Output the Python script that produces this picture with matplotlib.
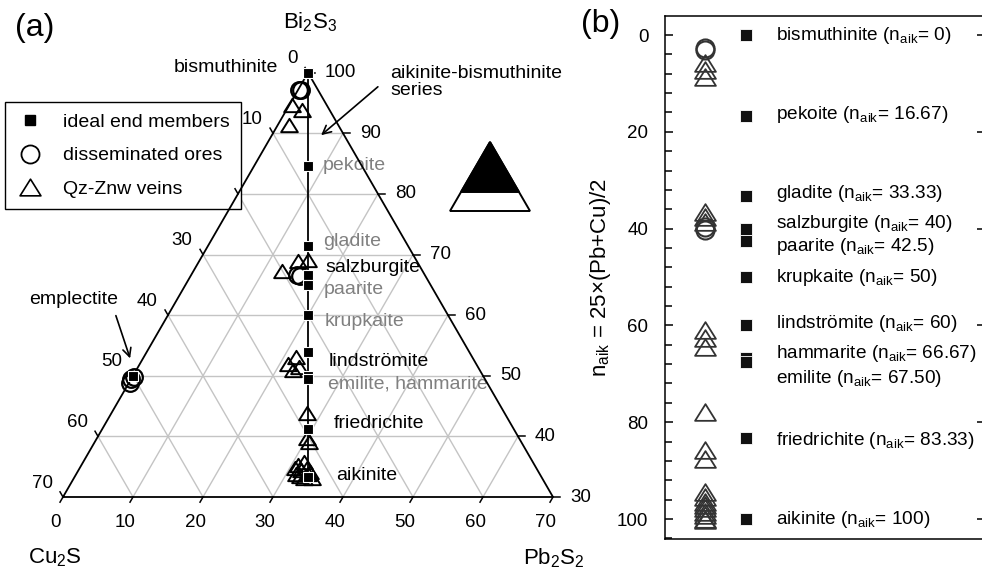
import numpy as np
import matplotlib.pyplot as plt
from matplotlib.lines import Line2D
from matplotlib.path import Path
from matplotlib.patches import Polygon
from matplotlib.ticker import MultipleLocator

plt.rcParams['font.family'] = ['Liberation Sans', 'DejaVu Sans']
plt.rcParams['mathtext.fontset'] = 'custom'
plt.rcParams['mathtext.rm'] = 'Liberation Sans'
plt.rcParams['mathtext.it'] = 'Liberation Sans:italic'
plt.rcParams['mathtext.bf'] = 'Liberation Sans:bold'

# ---- data ----
# ideal members of the aikinite-bismuthinite series (n_aik)
members = ["bismuthinite", "pekoite", "gladite", "salzburgite", "paarite", "krupkaite",
           "lindströmite", "hammarite", "emilite", "friedrichite", "aikinite"]
n_aik = [0, 16.67, 33.33, 40, 42.5, 50, 60, 66.67, 67.5, 83.33, 100]
n_txt = ["0", "16.67", "33.33", "40", "42.5", "50", "60", "66.67", "67.50", "83.33", "100"]
# emplectite CuBiS2 (mol% Cu2S, Pb2S2, Bi2S3)
empl_cu, empl_pb, empl_bi = [50.0], [0.0], [50.0]

# disseminated ores (mol% Cu2S, Pb2S2, Bi2S3)
diss_cu = [2.7, 2.5, 18.3, 18.0, 50.5, 51.0, 49.9]
diss_pb = [0.1, 0.4, 15.1, 15.6, 0.0, 0.2, 0.3]
diss_bi = [97.2, 97.1, 66.6, 66.4, 49.5, 48.8, 49.8]

# Qz-Znw veins (mol% Cu2S, Pb2S2, Bi2S3)
vein_cu = [5.0, 3.9, 7.0, 15.5, 17.0, 20.0, 25.2, 26.8, 25.6, 26.6, 28.2, 30.3, 30.3,
           34.5, 33.8, 33.8, 32.7, 32.7, 32.6, 34.4, 34.0, 32.9, 34.8, 33.1]
vein_pb = [0.4, 2.2, 1.6, 15.4, 14.1, 12.7, 21.7, 21.2, 22.9, 22.4, 28.0, 30.0, 30.6,
           30.7, 30.9, 31.8, 31.5, 32.5, 33.2, 32.1, 32.9, 34.0, 31.4, 33.1]
vein_bi = [94.6, 93.9, 91.4, 69.1, 68.9, 67.3, 53.1, 52.0, 51.5, 51.0, 43.8, 39.7, 39.1,
           34.8, 35.3, 34.4, 35.8, 34.8, 34.2, 33.5, 33.1, 33.1, 33.8, 33.8]

# panel (b): n_aik of analyses
diss_n = [2.7, 3.1, 39.6, 40.3]
vein_n = [5.8, 7.2, 8.7, 36.5, 37.5, 38.6, 61.0, 62.7, 64.4, 77.8, 85.7, 87.5,
          94.4, 95.4, 96.4, 97.1, 97.8, 98.5, 99.2, 99.9, 100.2]
label_y = [0, 16.5, 32.7, 38.9, 43.7, 50.2, 59.7, 65.7, 70.9, 83.7, 100]

SQ = np.sqrt(3) / 2


def to_xy(pb, bi):
    pb = np.asarray(pb, float)
    bi = np.asarray(bi, float)
    return pb + (bi - 30) / 2, (bi - 30) * SQ


def px(x, y):
    # figure pixel -> ternary axes data (7 px per unit)
    return (x - 63) / 7, (497 - y) / 7


tri = Path([(-1, -0.8), (1, -0.8), (0, 0.8), (0, 0)],
           [Path.MOVETO, Path.LINETO, Path.LINETO, Path.CLOSEPOLY])

fig = plt.figure(figsize=(9.82, 5.74), dpi=100)

# ---- (a) ternary ----
ax = fig.add_axes([0, 0, 600 / 982, 1])
ax.set_xlim(-9, 600 / 7 - 9)
ax.set_ylim(-11, 71)
ax.axis('off')

grid = '#c4c4c4'
for v in range(10, 70, 10):
    b = 30 + v
    x, y = to_xy([0, 100 - b], [b, b])
    ax.plot(x, y, color=grid, lw=1, zorder=1)
    x, y = to_xy([v, v], [30, 100 - v])
    ax.plot(x, y, color=grid, lw=1, zorder=1)
    x, y = to_xy([70 - v, 0], [30, 100 - v])
    ax.plot(x, y, color=grid, lw=1, zorder=1)

x, y = to_xy([0, 70, 0, 0], [30, 30, 100, 30])
ax.plot(x, y, color='black', lw=1.3, zorder=6, solid_joinstyle='miter')

L = 0.85
for v in range(0, 80, 10):
    # bottom: Pb2S2
    x0, y0 = to_xy(v, 30)
    ax.plot([x0, x0 - 0.5 * L], [y0, y0 - SQ * L], color='black', lw=1.1, zorder=6)
    ax.text(x0 - 1.14, -3.71, str(v), ha='center', va='center', fontsize=13.5)
    # left: Cu2S
    x0, y0 = to_xy(0, 100 - v)
    ax.plot([x0, x0 - 0.5 * L], [y0, y0 + SQ * L], color='black', lw=1.1, zorder=6)
    ax.text(x0 - 1.5, y0 + 2.0, str(v), ha='right', va='center', fontsize=13.5)
    # right: Bi2S3
    x0, y0 = to_xy(70 - v, 30 + v)
    ax.plot([x0, x0 + 1.0], [y0, y0], color='black', lw=1.1, zorder=6)
    ax.text(x0 + 2.43, y0, str(30 + v), ha='left', va='center', fontsize=13.5)

# series line and ideal end members
f = np.array(n_aik) / 100
sq_pb = 100 * f / (2 + f)
sq_bi = 100 * (2 - f) / (2 + f)
x, y = to_xy(sq_pb, sq_bi)
ax.plot(x, y, color='black', lw=1.3, zorder=4)

x, y = to_xy(vein_pb, vein_bi)
ax.plot(x, y, ls='none', marker=tri, ms=12, mfc='none', mec='black', mew=1.4, zorder=5)
x, y = to_xy(diss_pb, diss_bi)
ax.plot(x, y, ls='none', marker='o', ms=12, mfc='none', mec='black', mew=1.6, zorder=5)

x, y = to_xy(np.r_[sq_pb, empl_pb], np.r_[sq_bi, empl_bi])
ax.plot(x, y, ls='none', marker='s', ms=7.5, mfc='black', mec='white', mew=0.8, zorder=7)

# mineral labels
fs = 14
gray = '#808080'
ax.text(*px(278, 68), 'bismuthinite', ha='right', va='center', fontsize=fs)
ax.text(*px(390, 82), 'aikinite-bismuthinite\nseries', ha='left', va='center',
        fontsize=fs, linespacing=1.05)
for name, xp, yp, col in [("pekoite", 323, 165, gray), ("gladite", 323, 242, gray),
                          ("salzburgite", 325, 268, 'black'), ("paarite", 324, 289, gray),
                          ("krupkaite", 325, 321, gray), ("lindströmite", 329, 361, 'black'),
                          ("emilite, hammarite", 328, 384, gray),
                          ("friedrichite", 334, 424, 'black'), ("aikinite", 336, 476, 'black')]:
    ax.text(*px(xp, yp), name, ha='left', va='center', fontsize=fs, color=col)
ax.text(*px(74, 300), 'emplectite', ha='center', va='center', fontsize=fs)

arrow = dict(arrowstyle='->,head_length=0.6,head_width=0.3', color='black', lw=1.2)
ax.annotate('', xy=px(319, 137), xytext=px(380, 85), arrowprops=arrow)
ax.annotate('', xy=px(131, 361), xytext=px(115, 313), arrowprops=arrow)

ax.text(*px(310, 22), 'Bi$_{\\rm 2}$S$_{\\rm 3}$', ha='center', va='center', fontsize=16)
ax.text(*px(55, 558), 'Cu$_{\\rm 2}$S', ha='center', va='center', fontsize=16)
ax.text(*px(585, 558), 'Pb$_{\\rm 2}$S$_{\\rm 2}$', ha='right', va='center', fontsize=16)
ax.text(*px(35, 28), '(a)', ha='center', va='center', fontsize=23)

handles = [Line2D([], [], ls='none', marker='s', ms=7, mfc='black', mec='black'),
           Line2D([], [], ls='none', marker='o', ms=13, mfc='none', mec='black', mew=1.3),
           Line2D([], [], ls='none', marker=tri, ms=15, mfc='none', mec='black', mew=1.2)]
leg = ax.legend(handles, ['ideal end members', 'disseminated ores', 'Qz-Znw veins'],
                loc='upper left', bbox_to_anchor=(5 / 600, 1 - 102 / 574),
                bbox_transform=ax.transAxes, borderaxespad=0, fontsize=14,
                frameon=True, fancybox=False, edgecolor='black', framealpha=1,
                handlelength=1.37, handletextpad=1.0, labelspacing=0.8, borderpad=0.6)
leg.get_frame().set_linewidth(1.0)
leg.set_zorder(5.5)

# composition icon
ins = fig.add_axes([450 / 982, (574 - 211) / 574, 80 / 982, 69 / 574])
ins.set_xlim(0, 1)
ins.set_ylim(0, 1)
ins.axis('off')
h = 50 / 69
ins.add_patch(Polygon([(0, 0), (1, 0), (0.5, 1)], closed=True, fc='white', ec='black',
                      lw=1.4, clip_on=False))
ins.add_patch(Polygon([(0.5, 1), (0.5 - 0.5 * h, 1 - h), (0.5 + 0.5 * h, 1 - h)],
                      closed=True, fc='black', ec='black', lw=1.4, clip_on=False))

# ---- (b) n_aik ----
ax2 = fig.add_axes([665 / 982, 35 / 574, 320 / 982, 523 / 574])
ax2.set_xlim(0, 1)
ax2.set_ylim(104.13, -3.93)
ax2.set_xticks([])
ax2.set_yticks(range(0, 101, 20))
ax2.yaxis.set_minor_locator(MultipleLocator(4))
ax2.tick_params(axis='y', which='both', direction='in', labelsize=13.5, pad=12, width=1.1)
ax2.tick_params(axis='y', which='major', length=6, right=True)
ax2.tick_params(axis='y', which='minor', length=5)
for s in ax2.spines.values():
    s.set_linewidth(1.1)
ax2.set_ylabel('n$_{\\rm aik}$ = 25×(Pb+Cu)/2', fontsize=16, labelpad=3)

ax2.plot([0.125] * len(vein_n), vein_n, ls='none', marker=tri, ms=15, mfc='none',
         mec='#333333', mew=1.3)
ax2.plot([0.125] * len(diss_n), diss_n, ls='none', marker='o', ms=13, mfc='none',
         mec='#333333', mew=1.5)
ax2.plot([0.253] * len(n_aik), n_aik, ls='none', marker='s', ms=8, mfc='#111111',
         mec='white', mew=0.6)
for name, val, yy in zip(members, n_txt, label_y):
    ax2.text(0.347, yy, name + ' (n$_{\\rm aik}$= ' + val + ')', ha='left', va='center',
             fontsize=13.7)

fig.text(601 / 982, 1 - 24 / 574, '(b)', ha='center', va='center', fontsize=23)

fig.savefig('out.png', dpi=100)
